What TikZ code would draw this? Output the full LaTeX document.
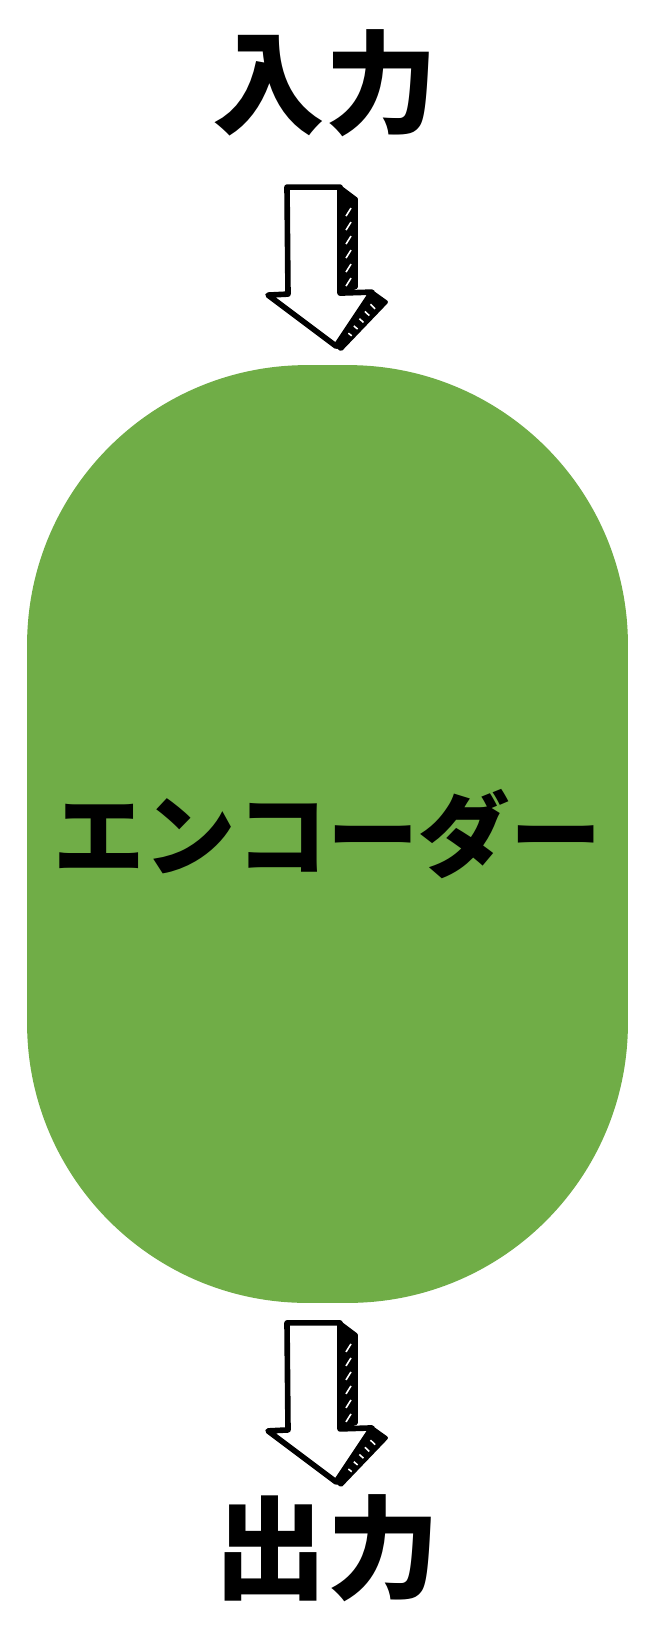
\documentclass[tikz,border=0pt]{standalone}
\usepackage{fontspec}
\newfontfamily\jpfont{Noto Sans CJK JP}
\usetikzlibrary{positioning,calc}
\definecolor{encgreen}{HTML}{70AD47}
% hand drawn block arrow, centred at #1
\newcommand\sketcharrow[1]{%
\begin{scope}[shift={(#1)}]
	% side faces with hatching
	\filldraw[black, line width=2.2pt, line join=round] (20,-79) -- (36,-67) -- (36,21) -- (20,27) -- cycle;
	\foreach \k in {0,...,5}
		\draw[white, line width=0.9pt] (31,{-58+\k*14}) -- (26,{-50+\k*14});
	\filldraw[black, line width=2.2pt, line join=round] (52,26) -- (66,36) -- (21,83) -- (16,79) -- cycle;
	\foreach \t in {0.15,0.3,...,0.85}
		\draw[white, line width=0.9pt] ($(56,31)!\t!(19,79)$) -- ($(61,36)!\t!(22,81)$);
	% front face
	\filldraw[fill=white, draw=black, line width=3.2pt, line join=round]
		(-33,-79) -- (20,-79) -- (20,27) -- (52,26) -- (16,80) -- (-52,29) -- (-32,28) -- cycle;
\end{scope}
}

\begin{document}
\begin{tikzpicture}[x=0.02cm, y=-0.02cm,
	every node/.style={inner sep=0pt, outer sep=0pt},
	io text/.style={font=\jpfont\bfseries\fontsize{64}{70}\selectfont},
	encoder/.style={fill=encgreen, rounded corners=5.6cm, minimum width=12.02cm, minimum height=18.76cm,
		font=\jpfont\bfseries\fontsize{52}{60}\selectfont}]
	\useasboundingbox (0,0) rectangle (656,1632);

	\node[encoder] (enc) at (327.5,834) {エンコーダー};
	\node[io text] (inp) at (325,83) {入力};
	\node[io text] (outp) at (327,1548) {出力};

	% arrows between the blocks
	\coordinate (inArr) at ($(enc.north)+(-7.5,-99)$);
	\coordinate (outArr) at ($(enc.south)+(-7.5,99)$);
	\sketcharrow{inArr}
	\sketcharrow{outArr}
\end{tikzpicture}
\end{document}
